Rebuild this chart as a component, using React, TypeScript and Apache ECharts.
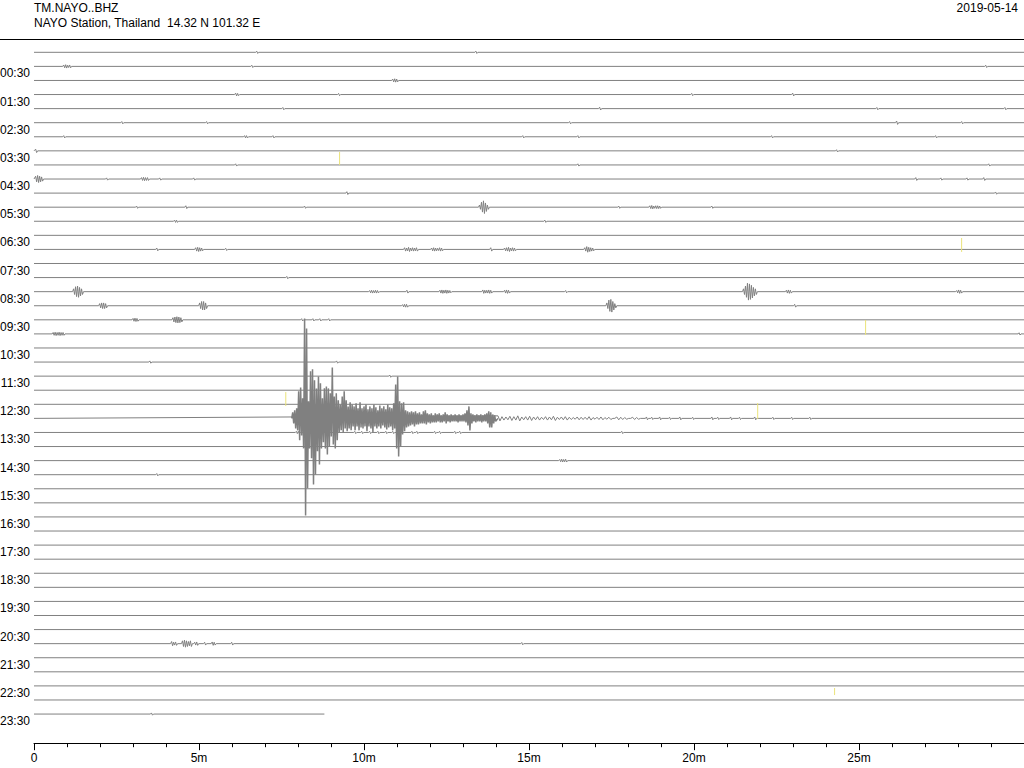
import React, { useEffect, useRef } from "react";
import * as echarts from "echarts";

const STATION = "TM.NAYO..BHZ";
const SUBTITLE = "NAYO Station, Thailand  14.32 N 101.32 E";
const DATE = "2019-05-14";

const TRACE_COUNT = 48;
const TRACE_MINUTES = 30;
const LAST_TRACE_END = 8.8;

const HOUR_LABELS = [
  "00:30", "01:30", "02:30", "03:30", "04:30", "05:30", "06:30", "07:30",
  "08:30", "09:30", "10:30", "11:30", "12:30", "13:30", "14:30", "15:30",
  "16:30", "17:30", "18:30", "19:30", "20:30", "21:30", "22:30", "23:30",
];

const X_TICK_LABELS: Record<number, string> = { 0: "0", 5: "5m", 10: "10m", 15: "15m", 20: "20m", 25: "25m" };

// Earthquake on trace 26: envelope [up, down] in trace units, one pair every QUAKE_STEP minutes
const QUAKE_TRACE = 26;
const QUAKE_START = 7.84;
const QUAKE_STEP = 0.06;
const QUAKE_ENVELOPE: [number, number][] = [
  [0.43, 0.36], [0.57, 0.71], [0.71, 0.85], [1.92, 1.56], [2.2, 1.21], [1.42, 2.13], [7.1, 6.89], [6.39, 4.97], [1.21, 2.13], [3.34, 2.84],
  [3.48, 4.69], [2.7, 3.98], [2.13, 2.34], [2.98, 3.27], [2.49, 2.13], [1.42, 1.7], [2.13, 2.13], [2.27, 2.56], [2.13, 1.99], [1.78, 1.28],
  [3.62, 1.85], [1.56, 2.13], [1.78, 1.56], [1.28, 0.99], [0.99, 0.85], [1.56, 0.99], [1.92, 0.71], [1.28, 0.92], [0.85, 0.71], [1.14, 0.85],
  [0.99, 0.57], [0.85, 0.85], [1.07, 0.57], [0.71, 0.85], [1.14, 0.64], [0.71, 0.71], [0.85, 0.57], [0.99, 0.92], [0.64, 0.57], [0.85, 0.71],
  [0.71, 0.99], [0.99, 0.57], [0.78, 0.71], [0.57, 0.57], [0.92, 0.71], [0.71, 0.5], [0.85, 0.64], [0.64, 0.78], [0.99, 0.64], [0.78, 0.57],
  [0.71, 0.85], [1.07, 0.71], [2.41, 2.13], [2.98, 2.7], [1.21, 1.99], [1.07, 1.14], [1.14, 0.92], [0.57, 0.64], [0.5, 0.57], [0.43, 0.5],
  [0.5, 0.43], [0.43, 0.57], [0.5, 0.43], [0.36, 0.43], [0.43, 0.36], [0.28, 0.36], [0.5, 0.36], [0.57, 0.43], [0.36, 0.28], [0.28, 0.36],
  [0.36, 0.28], [0.21, 0.28], [0.36, 0.28], [0.28, 0.21], [0.36, 0.28], [0.21, 0.28], [0.28, 0.21], [0.43, 0.36], [0.28, 0.21], [0.21, 0.28],
  [0.28, 0.21], [0.21, 0.21], [0.28, 0.21], [0.21, 0.28], [0.28, 0.21], [0.21, 0.21], [0.28, 0.21], [0.36, 0.28], [0.57, 0.5], [0.85, 0.85],
  [0.36, 0.36], [0.28, 0.21], [0.21, 0.28], [0.28, 0.21], [0.21, 0.21], [0.28, 0.28], [0.21, 0.21], [0.28, 0.21], [0.36, 0.36], [0.5, 0.64],
  [0.43, 0.64], [0.28, 0.36], [0.21, 0.21],
];

// Quake coda on trace 26
const TAIL_START = 14.06;
const TAIL_STEP = 0.12;
const TAIL_AMPS = [
  0.18, 0.12, 0.1, 0.15, 0.12, 0.18, 0.1, 0.12, 0.15, 0.1, 0.12, 0.08,
  0.12, 0.1, 0.15, 0.08, 0.1, 0.12, 0.08, 0.06, 0.1, 0.08, 0.08, 0.12,
  0.06, 0.08, 0.1, 0.06, 0.08, 0, 0.1, 0.08, 0.06, 0, 0.08, 0.06,
];

// Small bursts: [trace, start minute, amplitudes (trace units), one every BURST_STEP minutes]
const BURST_STEP = 0.06;
const BURSTS: [number, number, number[]][] = [
  [0, 6.75, [0.08]], [0, 13.39, [0.08]],
  [1, 0.9, [0.1, 0.12, 0.08, 0.1]], [1, 6.6, [0.08]], [1, 28.84, [0.08]],
  [2, 10.87, [0.1, 0.12, 0.1]],
  [3, 6.11, [0.1, 0.08]], [3, 9.23, [0.08]], [3, 19.93, [0.08]], [3, 22.99, [0.1]],
  [4, 7.54, [0.08]], [4, 17.14, [0.1]], [4, 25.54, [0.08]], [4, 29.42, [0.08]],
  [5, 2.66, [0.08]], [5, 5.23, [0.08]], [5, 16.23, [0.08]], [5, 26.14, [0.12]], [5, 28.11, [0.08]],
  [6, 0.9, [0.08]], [6, 6.38, [0.08, 0.08]], [6, 7.24, [0.08]], [6, 14.81, [0.08]], [6, 16.48, [0.08]], [6, 22.35, [0.08]], [6, 27.32, [0.08]],
  [7, 0.05, [0.12]], [7, 24.32, [0.08]],
  [8, 6.11, [0.08]], [8, 16.48, [0.08]], [8, 28.93, [0.08]],
  [9, 0.05, [0.2, 0.25, 0.2, 0.15]], [9, 2.2, [0.08]], [9, 3.26, [0.1, 0.12, 0.1, 0.1]], [9, 3.81, [0.08]], [9, 4.84, [0.08]],
  [9, 26.72, [0.1]], [9, 27.48, [0.08]], [9, 28.27, [0.08]], [9, 28.78, [0.1]],
  [10, 9.48, [0.1]], [10, 29.14, [0.08]],
  [11, 3.11, [0.08]], [11, 4.6, [0.1]], [11, 8.2, [0.08]], [11, 13.5, [0.15, 0.35, 0.45, 0.3, 0.15]], [11, 17.72, [0.08]],
  [11, 18.66, [0.1, 0.12, 0.08, 0.1, 0.1, 0.08]], [11, 20.54, [0.08]],
  [12, 4.26, [0.08, 0.08]], [12, 15.48, [0.08]],
  [14, 3.72, [0.1]], [14, 4.9, [0.12, 0.15, 0.12, 0.1]], [14, 5.81, [0.08]], [14, 11.23, [0.12, 0.1, 0.15, 0.1, 0.12, 0.1, 0.12]],
  [14, 12.05, [0.1, 0.12, 0.1, 0.08, 0.12, 0.1]], [14, 13.84, [0.12]], [14, 14.26, [0.1, 0.12, 0.15, 0.1, 0.12, 0.1]],
  [14, 16.69, [0.12, 0.2, 0.15, 0.12, 0.1]],
  [16, 7.66, [0.08]],
  [17, 1.2, [0.2, 0.35, 0.4, 0.3, 0.2]], [17, 10.17, [0.08, 0.1, 0.08, 0.1, 0.08]], [17, 11.3, [0.1]],
  [17, 12.3, [0.1, 0.12, 0.1, 0.12, 0.1, 0.08]], [17, 13.6, [0.12, 0.1, 0.1, 0.12, 0.1]], [17, 14.26, [0.1, 0.12, 0.1]],
  [17, 16.11, [0.08]], [17, 21.5, [0.2, 0.4, 0.6, 0.55, 0.45, 0.3, 0.2]], [17, 22.8, [0.1, 0.12, 0.1]], [17, 27.96, [0.08, 0.12, 0.1]],
  [18, 1.99, [0.15, 0.2, 0.2, 0.15]], [18, 5.02, [0.2, 0.3, 0.3, 0.2]], [18, 11.17, [0.08, 0.1, 0.1]],
  [18, 17.36, [0.2, 0.4, 0.45, 0.3, 0.15]], [18, 23.05, [0.1]],
  [19, 3.0, [0.1, 0.12, 0.1]], [19, 4.21, [0.15, 0.2, 0.22, 0.2, 0.15]], [19, 8.11, [0.08]], [19, 8.45, [0.08]], [19, 8.66, [0.08]], [19, 8.93, [0.08]],
  [20, 0.58, [0.1, 0.12, 0.1, 0.12, 0.1, 0.1]], [20, 29.85, [0.08]],
  [22, 3.51, [0.08]], [22, 9.17, [0.08]],
  [23, 10.78, [0.08]],
  [26, 18.56, [0.1]], [26, 18.72, [0.08]], [26, 18.96, [0.1]], [26, 19.26, [0.08]], [26, 19.57, [0.1]], [26, 19.96, [0.08]],
  [26, 20.54, [0.1]], [26, 20.72, [0.08]], [26, 21.11, [0.1]], [26, 21.38, [0.08]], [26, 21.84, [0.1]], [26, 22.39, [0.08]],
  [26, 22.96, [0.08]], [26, 23.51, [0.08]],
  [27, 7.95, [0.08, 0.08]], [27, 9.72, [0.08]], [27, 9.93, [0.08]], [27, 10.17, [0.08]], [27, 10.42, [0.08]], [27, 10.66, [0.08]],
  [27, 10.87, [0.08]], [27, 11.45, [0.08]], [27, 11.6, [0.08]], [27, 12.14, [0.08]], [27, 12.29, [0.08]], [27, 12.75, [0.08]],
  [27, 12.9, [0.08]], [27, 17.81, [0.08]],
  [29, 15.93, [0.08, 0.1, 0.08, 0.1]],
  [30, 3.72, [0.08]],
  [42, 4.17, [0.15, 0.1, 0.12]], [42, 4.5, [0.2, 0.25, 0.2, 0.15, 0.2]], [42, 4.87, [0.1, 0.12]], [42, 5.17, [0.1]],
  [42, 5.4, [0.12, 0.1]], [42, 5.99, [0.1]], [42, 14.78, [0.08]],
  [47, 3.56, [0.08]],
];

// Yellow marks: [minute, top, bottom] in y-axis units
const YELLOW_MARKS: [number, number, number][] = [
  [9.26, 7.58, 8.5],
  [28.11, 13.69, 14.68],
  [25.2, 19.51, 20.58],
  [21.93, 25.41, 26.55],
  [7.63, 24.63, 25.62],
  [24.26, 45.65, 46.15],
];

const GRAY = "#808080";
const YELLOW = "#ebe37a";
const FONT = "'Liberation Sans', Arial, Helvetica, sans-serif";

function lineSeries(data: number[][], color: string, width: number, z: number) {
  return {
    type: "line",
    data,
    symbol: "none",
    showSymbol: false,
    silent: true,
    lineStyle: { color, width },
    z,
  };
}

function buildTraceSeries() {
  const series: any[] = [];
  for (let j = 0; j < TRACE_COUNT; j++) {
    const y0 = j + 0.5;
    const end = j === TRACE_COUNT - 1 ? LAST_TRACE_END : TRACE_MINUTES;
    const pts: [number, number][] = [];
    BURSTS.filter((b) => b[0] === j).forEach(([, start, amps]) => {
      pts.push([start - BURST_STEP / 2, y0]);
      amps.forEach((a, k) => {
        const t = start + k * BURST_STEP;
        pts.push([t, y0 - a]);
        pts.push([t + BURST_STEP / 2, y0 + a]);
      });
      pts.push([start + amps.length * BURST_STEP, y0]);
    });
    if (j === QUAKE_TRACE) {
      TAIL_AMPS.forEach((a, k) => {
        const t = TAIL_START + k * TAIL_STEP;
        pts.push([t, y0 - a]);
        pts.push([t + TAIL_STEP / 2, y0 + a]);
      });
      pts.push([TAIL_START + TAIL_AMPS.length * TAIL_STEP, y0]);
      // dense main shaking drawn as its own, slightly heavier line
      const quake: number[][] = [[QUAKE_START - QUAKE_STEP / 2, y0]];
      QUAKE_ENVELOPE.forEach(([u, d], k) => {
        const t = QUAKE_START + k * QUAKE_STEP;
        quake.push([t, y0 - u]);
        quake.push([t + QUAKE_STEP / 2, y0 + d]);
      });
      quake.push([TAIL_START, y0]);
      series.push(lineSeries(quake, GRAY, 1.5, 3));
    }
    pts.sort((a, b) => a[0] - b[0]);
    const data = [[0, y0], ...pts.filter((p) => p[0] > 0 && p[0] < end), [end, y0]];
    series.push(lineSeries(data, GRAY, 1, 2));
  }
  YELLOW_MARKS.forEach(([m, top, bottom]) => {
    series.push(lineSeries([[m, top], [m, bottom]], YELLOW, 1, 4));
  });
  return series;
}

export default function App() {
  const ref = useRef<HTMLDivElement>(null);
  useEffect(() => {
    if (!ref.current) return;
    const chart = echarts.init(ref.current, undefined, { renderer: "svg" });
    const titleStyle = { fontSize: 12, fontWeight: "normal" as const, color: "#000", fontFamily: FONT };
    chart.setOption({
      animation: false,
      backgroundColor: "#fff",
      textStyle: { fontFamily: FONT },
      title: [
        { text: STATION, left: 34, top: 2, padding: 0, textStyle: titleStyle },
        { text: SUBTITLE, left: 34, top: 17, padding: 0, textStyle: titleStyle },
        { text: DATE, right: 6, top: 2, padding: 0, textStyle: titleStyle },
      ],
      graphic: [
        {
          type: "line",
          shape: { x1: 0, y1: 39.5, x2: 1024, y2: 39.5 },
          style: { stroke: "#000", lineWidth: 1 },
          silent: true,
        },
      ],
      grid: {
        left: 34,
        right: 0,
        top: 45.26,
        bottom: 24.8,
        containLabel: false,
        outerBoundsMode: "none",
      },
      xAxis: {
        type: "value",
        position: "bottom",
        min: 0,
        max: TRACE_MINUTES,
        interval: 5,
        axisLine: { show: true, onZero: false, lineStyle: { color: "#000", width: 1 } },
        axisTick: { show: true, length: 7, lineStyle: { color: "#000" } },
        minorTick: { show: true, splitNumber: 5, length: 4, lineStyle: { color: "#000" } },
        splitLine: { show: false },
        axisLabel: {
          color: "#000",
          fontSize: 12,
          margin: 9,
          fontFamily: FONT,
          formatter: (v: number) => X_TICK_LABELS[v] ?? "",
        },
      },
      yAxis: {
        type: "value",
        inverse: true,
        min: 0,
        max: 49.57,
        interval: 2,
        axisLine: { show: false },
        axisTick: { show: false },
        splitLine: { show: false },
        axisLabel: {
          color: "#000",
          fontSize: 12,
          margin: 4,
          fontFamily: FONT,
          formatter: (v: number) => {
            const idx = Math.round(v / 2) - 1;
            if (Math.abs(v / 2 - Math.round(v / 2)) > 1e-6) return "";
            return idx >= 0 && idx < HOUR_LABELS.length ? HOUR_LABELS[idx] : "";
          },
        },
      },
      series: buildTraceSeries(),
    });
    return () => chart.dispose();
  }, []);
  return (
    <div
      ref={ref}
      style={{ position: "fixed", left: 0, top: 0, width: 1024, height: 768, background: "#fff" }}
    />
  );
}
